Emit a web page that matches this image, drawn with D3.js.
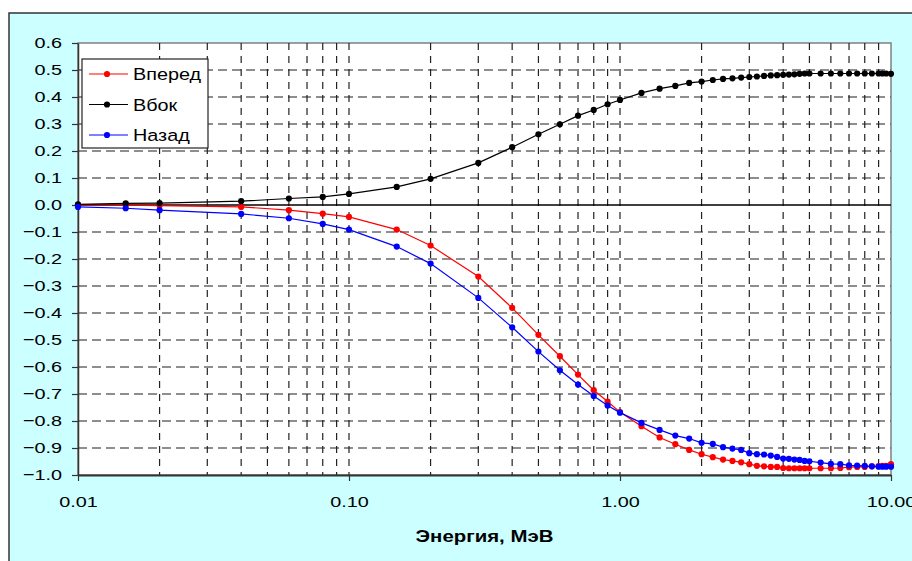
<!DOCTYPE html>
<html>
<head>
<meta charset="utf-8">
<script src="https://cdn.jsdelivr.net/npm/d3@7"></script>
<style>
  body { margin: 0; background: #fff; }
  svg { display: block; font-family: "Liberation Sans", Arial, sans-serif; }
</style>
</head>
<body>
<div id="chart"></div>
<script>
// Energy grid, MeV
const energy = [0.01, 0.015, 0.02, 0.04, 0.06, 0.08, 0.1, 0.15, 0.2, 0.3, 0.4, 0.5, 0.6, 0.7, 0.8, 0.9,
  1.0, 1.2, 1.4, 1.6, 1.8, 2.0, 2.2, 2.4, 2.6, 2.8, 3.0, 3.2, 3.4, 3.6, 3.8, 4.0, 4.2, 4.4, 4.6, 4.8, 5.0,
  5.5, 6.0, 6.5, 7.0, 7.5, 8.0, 8.5, 9.0, 9.3, 9.6, 10.0];

const forward = [0.0, -0.001, -0.002, -0.007, -0.019, -0.032, -0.044, -0.091, -0.150, -0.265, -0.381, -0.481, -0.560, -0.628, -0.686, -0.728,
  -0.767, -0.819, -0.861, -0.886, -0.907, -0.923, -0.934, -0.943, -0.948, -0.953, -0.960, -0.966, -0.968, -0.970, -0.970, -0.974, -0.975, -0.975, -0.975, -0.975, -0.975,
  -0.975, -0.975, -0.974, -0.971, -0.970, -0.970, -0.968, -0.967, -0.966, -0.966, -0.960];

const side = [0.002, 0.006, 0.007, 0.014, 0.024, 0.030, 0.041, 0.067, 0.097, 0.156, 0.214, 0.262, 0.299, 0.331, 0.352, 0.373,
  0.389, 0.415, 0.431, 0.441, 0.452, 0.457, 0.463, 0.467, 0.469, 0.472, 0.474, 0.476, 0.478, 0.480, 0.481, 0.482, 0.483, 0.484, 0.486, 0.487, 0.487,
  0.487, 0.487, 0.487, 0.487, 0.487, 0.487, 0.487, 0.487, 0.487, 0.487, 0.486];

const backward = [-0.007, -0.012, -0.019, -0.033, -0.049, -0.070, -0.091, -0.154, -0.217, -0.344, -0.453, -0.543, -0.612, -0.665, -0.707, -0.743,
  -0.769, -0.807, -0.833, -0.854, -0.865, -0.881, -0.885, -0.897, -0.902, -0.907, -0.919, -0.923, -0.924, -0.928, -0.933, -0.939, -0.940, -0.943, -0.944, -0.948, -0.949,
  -0.954, -0.959, -0.960, -0.964, -0.965, -0.966, -0.968, -0.969, -0.969, -0.969, -0.969];

const seriesNames = ["Вперед", "Вбок", "Назад"];
const seriesColors = ["#ff0000", "#000000", "#0000ff"];
const seriesValues = [forward, side, backward];

const xTicks = [0.01, 0.1, 1, 10];
const yTicks = d3.range(-10, 7).map(i => i / 10);
const xTitle = "Энергия, МэВ";

const width = 912, height = 561;
const plot = { left: 78, right: 891, top: 43, bottom: 475 };
const sx = 1.28; // the reference text is drawn wide

const svg = d3.select("#chart").append("svg")
  .attr("width", width)
  .attr("height", height);

// Chart area
svg.append("rect")
  .attr("x", 9).attr("y", 13)
  .attr("width", width).attr("height", height)
  .attr("fill", "#ccffff")
  .attr("stroke", "#333")
  .attr("stroke-width", 1.5);

// Plot area
svg.append("rect")
  .attr("x", plot.left).attr("y", plot.top)
  .attr("width", plot.right - plot.left).attr("height", plot.bottom - plot.top)
  .attr("fill", "#fff")
  .attr("stroke", "#808080")
  .attr("stroke-width", 1.5);

const x = d3.scaleLog().domain([0.01, 10]).range([plot.left, plot.right]);
const y = d3.scaleLinear().domain([-1, 0.6]).range([plot.bottom, plot.top]);

// Grid lines
const hGrid = yTicks.filter(v => Math.abs(v) > 1e-9 && v > -0.95 && v < 0.55);
svg.append("g").selectAll("line")
  .data(hGrid)
  .join("line")
  .attr("x1", plot.left).attr("x2", plot.right)
  .attr("y1", d => y(d)).attr("y2", d => y(d))
  .attr("stroke", "#6a6a6a")
  .attr("stroke-width", 1.5)
  .attr("stroke-dasharray", "9,5");

const vGrid = x.ticks().filter(v => v > 0.0101 && v < 9.99);
svg.append("g").selectAll("line")
  .data(vGrid)
  .join("line")
  .attr("x1", d => x(d)).attr("x2", d => x(d))
  .attr("y1", plot.top).attr("y2", plot.bottom)
  .attr("stroke", "#222")
  .attr("stroke-width", 1.2)
  .attr("stroke-dasharray", "7,6");

// Zero line
svg.append("line")
  .attr("x1", plot.left).attr("x2", plot.right)
  .attr("y1", y(0)).attr("y2", y(0))
  .attr("stroke", "#000")
  .attr("stroke-width", 1.5);

// Left axis
const leftAxis = svg.append("g")
  .attr("transform", `translate(${plot.left},0)`)
  .call(d3.axisLeft(y).tickValues(yTicks).tickSize(6).tickSizeOuter(0).tickFormat(d3.format(".1f")));
leftAxis.select(".domain").attr("stroke", "#333").attr("stroke-width", 1.5);
leftAxis.selectAll(".tick line").attr("stroke", "#333").attr("stroke-width", 1.2);
leftAxis.selectAll(".tick text")
  .attr("font-size", 15.5)
  .attr("fill", "#000")
  .attr("font-family", "Liberation Sans, Arial, sans-serif")
  .attr("x", -16 / sx)
  .attr("transform", `scale(${sx},1)`);

// Bottom axis
const bottomAxis = svg.append("g")
  .attr("transform", `translate(0,${plot.bottom})`)
  .call(d3.axisBottom(x).tickValues(xTicks).tickSize(6).tickSizeOuter(0).tickFormat(d3.format(".2f")));
bottomAxis.select(".domain").attr("stroke", "#333").attr("stroke-width", 1.8);
bottomAxis.selectAll(".tick line").attr("stroke", "#333").attr("stroke-width", 1.2);
bottomAxis.selectAll(".tick text")
  .attr("font-size", 15.5)
  .attr("fill", "#000")
  .attr("font-family", "Liberation Sans, Arial, sans-serif")
  .attr("y", 32)
  .attr("dy", 0)
  .attr("transform", `scale(${sx},1)`);

// X axis title
svg.append("text")
  .text(xTitle)
  .attr("text-anchor", "middle")
  .attr("font-weight", "bold")
  .attr("font-size", 17)
  .attr("transform", `translate(${(plot.left + plot.right) / 2},542) scale(1.2,1)`);

// Series
const line = d3.line()
  .x(d => x(d[0]))
  .y(d => y(d[1]));

seriesValues.forEach((vals, i) => {
  const pts = energy.map((e, j) => [e, vals[j]]);
  const g = svg.append("g");
  g.append("path")
    .datum(pts)
    .attr("d", line)
    .attr("fill", "none")
    .attr("stroke", seriesColors[i])
    .attr("stroke-width", 1.2);
  g.selectAll("circle")
    .data(pts)
    .join("circle")
    .attr("cx", d => x(d[0]))
    .attr("cy", d => y(d[1]))
    .attr("r", 3.1)
    .attr("fill", seriesColors[i]);
});

// Legend
const legend = svg.append("g");
legend.append("rect")
  .attr("x", 82).attr("y", 59)
  .attr("width", 126).attr("height", 89)
  .attr("fill", "#fff")
  .attr("stroke", "#222")
  .attr("stroke-width", 1.2);

seriesNames.forEach((name, i) => {
  const cy = 74 + i * 30.5;
  const g = legend.append("g");
  g.append("line")
    .attr("x1", 89).attr("x2", 128)
    .attr("y1", cy).attr("y2", cy)
    .attr("stroke", seriesColors[i])
    .attr("stroke-width", 1.2);
  g.append("circle")
    .attr("cx", 107).attr("cy", cy)
    .attr("r", 3.1)
    .attr("fill", seriesColors[i]);
  g.append("text")
    .text(name)
    .attr("font-size", 16.5)
    .attr("transform", `translate(133,${cy + 6}) scale(1.2,1)`);
});
</script>
</body>
</html>
